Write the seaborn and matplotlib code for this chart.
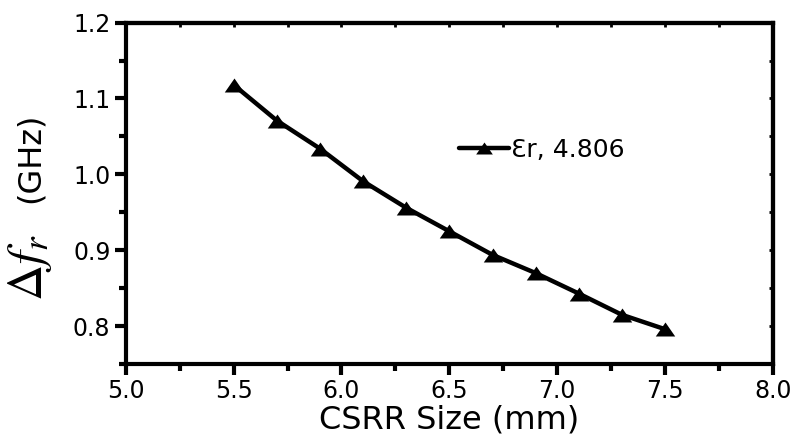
import numpy as np
import pandas as pd
import matplotlib
matplotlib.use("Agg")
import matplotlib.pyplot as plt
from matplotlib.ticker import MultipleLocator
import seaborn as sns

# CSRR size sweep and resonance-frequency shift
csrr_size = [5.5, 5.7, 5.9, 6.1, 6.3, 6.5, 6.7, 6.9, 7.1, 7.3, 7.5]
delta_fr = [1.118, 1.071, 1.034, 0.991, 0.956, 0.925, 0.894, 0.870, 0.843, 0.815, 0.796]
series_label = "Ɛr, 4.806"

x_ticks = [5.0, 5.5, 6.0, 6.5, 7.0, 7.5, 8.0]
y_ticks = [0.8, 0.9, 1.0, 1.1, 1.2]

df = pd.DataFrame({"size": csrr_size, "dfr": delta_fr, "label": series_label})

sns.set_style("ticks")
plt.rcParams["font.family"] = ["DejaVu Sans"]
plt.rcParams["text.color"] = "black"
plt.rcParams["axes.labelcolor"] = "black"

fig = plt.figure(figsize=(8.01, 4.43), dpi=100)
ax = fig.add_axes([0.157, 0.178, 0.808, 0.771])

# flattened up-pointing triangle
tri = [(0, 0.72), (-1, -0.72), (1, -0.72), (0, 0.72)]

sns.lineplot(data=df, x="size", y="dfr", hue="label", palette=["black"],
             marker=tri, markersize=14, markeredgewidth=0, linewidth=3.2,
             ax=ax)

ax.set_xlim(5.0, 8.0)
ax.set_ylim(0.75, 1.2)
ax.set_xticks(x_ticks)
ax.set_yticks(y_ticks)
ax.set_xticklabels([f"{v:.1f}" for v in x_ticks])
ax.set_yticklabels([f"{v:.1f}" for v in y_ticks])
ax.xaxis.set_minor_locator(MultipleLocator(0.25))
ax.yaxis.set_minor_locator(MultipleLocator(0.05))

for s in ax.spines.values():
    s.set_linewidth(3)
    s.set_color("black")

ax.tick_params(which="major", direction="out", length=8, width=3,
               labelsize=17, colors="black", labelcolor="black", pad=3)
ax.tick_params(which="minor", direction="out", length=5, width=3, colors="black")

# small inward ticks on the top and right frame edges
top = ax.secondary_xaxis("top")
top.set_xticks(np.arange(5.0, 8.001, 0.25))
top.tick_params(direction="in", length=3, width=2, labeltop=False, colors="black")
top.spines["top"].set_linewidth(3)
right = ax.secondary_yaxis("right")
right.set_yticks(np.arange(0.75, 1.2001, 0.05))
right.tick_params(direction="in", length=3, width=2, labelright=False, colors="black")
right.spines["right"].set_linewidth(3)

ax.set_xlabel("CSRR Size (mm)", fontsize=23, labelpad=1, color="black")
ax.set_ylabel("")
fig.text(0.038, 0.395, r"$\Delta f_r$", rotation=90, fontsize=36,
         ha="center", va="center", math_fontfamily="stix", color="black")
fig.text(0.038, 0.643, "(GHz)", rotation=90, fontsize=23,
         ha="center", va="center", color="black")

leg = ax.legend(loc="center left", bbox_to_anchor=(0.495, 0.627),
                frameon=False, fontsize=18, handlelength=2.0,
                handletextpad=0.1, borderpad=0)
for h in leg.legend_handles:
    h.set_markersize(12)
for t in leg.get_texts():
    t.set_color("black")

fig.savefig("out.png", dpi=100)
